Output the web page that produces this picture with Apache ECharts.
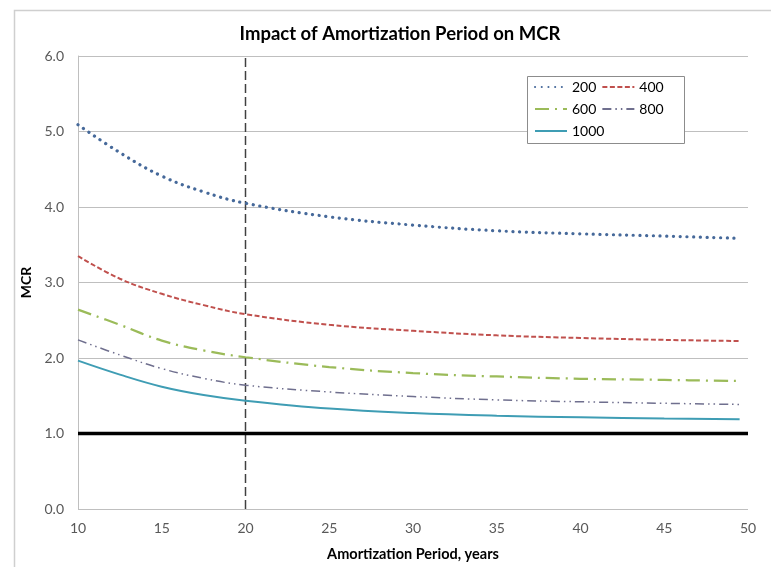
<!DOCTYPE html>
<html>
<head>
<meta charset="utf-8">
<script src="https://cdn.jsdelivr.net/npm/echarts@6/dist/echarts.min.js"></script>
<style>
html,body{margin:0;padding:0;background:#fff;}
#c{width:771px;height:567px;}
</style>
</head>
<body>
<div id="c"></div>
<script>
const years = [10, 12.5, 15, 17.5, 20, 25, 30, 35, 40, 45, 49.5];
const s200  = [5.09, 4.72, 4.41, 4.20, 4.05, 3.87, 3.76, 3.685, 3.645, 3.615, 3.585];
const s400  = [3.35, 3.05, 2.85, 2.70, 2.58, 2.44, 2.36, 2.30, 2.265, 2.24, 2.225];
const s600  = [2.64, 2.44, 2.23, 2.10, 2.01, 1.88, 1.80, 1.755, 1.725, 1.71, 1.695];
const s800  = [2.24, 2.04, 1.86, 1.73, 1.64, 1.55, 1.49, 1.445, 1.42, 1.40, 1.385];
const s1000 = [1.965, 1.78, 1.62, 1.51, 1.435, 1.33, 1.27, 1.235, 1.215, 1.20, 1.19];
const seriesNames = ['200', '400', '600', '800', '1000'];
const yTicks = [0, 1, 2, 3, 4, 5, 6];
const xTicks = [10, 15, 20, 25, 30, 35, 40, 45, 50];
const refYear = 20;
const refMCR = 1.0;

const pairs = arr => years.map((x, i) => [x, arr[i]]);
const font = 'Lato, "Open Sans", sans-serif';

const styles = [
  {color: '#46699a', width: 3.2, type: [0.1, 6.6], cap: 'round'},
  {color: '#c0504d', width: 2, type: [5, 2.5]},
  {color: '#9bbb59', width: 2.25, type: [14, 6, 2, 6]},
  {color: '#6f6f8e', width: 1.5, type: [9, 4, 1.5, 4, 1.5, 4]},
  {color: '#3f9db4', width: 2, type: 'solid'}
];
const data = [s200, s400, s600, s800, s1000];

const series = data.map((arr, i) => ({
  name: seriesNames[i],
  type: 'line',
  data: pairs(arr),
  smooth: 0.4,
  showSymbol: false,
  symbol: 'none',
  lineStyle: styles[i],
  itemStyle: {color: styles[i].color},
  z: 5
}));

series.push({
  type: 'line',
  name: 'ref',
  data: [[xTicks[0], refMCR], [xTicks[xTicks.length - 1], refMCR]],
  showSymbol: false, symbol: 'none',
  lineStyle: {color: '#000', width: 3.5},
  silent: true, z: 4
});
series.push({
  type: 'line',
  name: 'vref',
  data: [[refYear, yTicks[0]], [refYear, yTicks[yTicks.length - 1]]],
  showSymbol: false, symbol: 'none',
  lineStyle: {color: '#404040', width: 1.5, type: [9, 4]},
  silent: true, z: 3
});

const legendRows = [seriesNames.slice(0, 2), seriesNames.slice(2, 4), seriesNames.slice(4)];
const legendTops = [80, 102, 124];
const legends = legendRows.map((row, i) => ({
  data: row,
  left: 534, top: legendTops[i],
  orient: 'horizontal',
  padding: 0,
  itemWidth: 32, itemHeight: 14, itemGap: 5,
  itemStyle: {opacity: 0},
  formatter: '{a|{name}}',
  textStyle: {
    fontFamily: font, fontSize: 14, color: '#000',
    rich: {a: {fontFamily: font, fontSize: 14, color: '#000', width: 34}}
  },
  z: 10
}));

const chart = echarts.init(document.getElementById('c'));
chart.setOption({
  animation: false,
  backgroundColor: '#fff',
  graphic: [{
    type: 'rect', left: 12, top: 8,
    shape: {width: 800, height: 600},
    style: {fill: 'none', stroke: '#cfcfcf', lineWidth: 1.5},
    silent: true, z: -1
  }, {
    type: 'rect', left: 527, top: 76, z: 8,
    shape: {width: 157, height: 67},
    style: {fill: '#fff', stroke: '#8c8c8c', lineWidth: 1},
    silent: true
  }],
  title: {
    text: 'Impact of Amortization Period on MCR',
    left: 395, top: 20, textAlign: 'center',
    textStyle: {fontFamily: font, fontSize: 18.5, fontWeight: 'bold', color: '#000'}
  },
  legend: legends,
  grid: {left: 78, right: 23, top: 56, bottom: 58},
  xAxis: {
    type: 'value', min: 10, max: 50, interval: 5,
    name: 'Amortization Period, years', nameLocation: 'middle', nameGap: 38,
    nameTextStyle: {fontFamily: font, fontSize: 14.5, fontWeight: 'bold', color: '#000'},
    axisLine: {show: false},
    axisTick: {show: false},
    splitLine: {show: false},
    axisLabel: {fontFamily: font, fontSize: 14, color: '#595959', margin: 12}
  },
  yAxis: {
    type: 'value', min: 0, max: 6, interval: 1,
    name: 'MCR', nameLocation: 'middle', nameGap: 45, nameRotate: 90,
    nameTextStyle: {fontFamily: font, fontSize: 14, fontWeight: 'bold', color: '#000'},
    axisLine: {show: true, lineStyle: {color: '#bfbfbf', width: 1}},
    axisTick: {show: false},
    splitLine: {show: true, lineStyle: {color: '#bfbfbf', width: 1}},
    axisLabel: {fontFamily: font, fontSize: 14, color: '#595959', margin: 14,
      formatter: v => v.toFixed(1)}
  },
  series: series
});
</script>
</body>
</html>
